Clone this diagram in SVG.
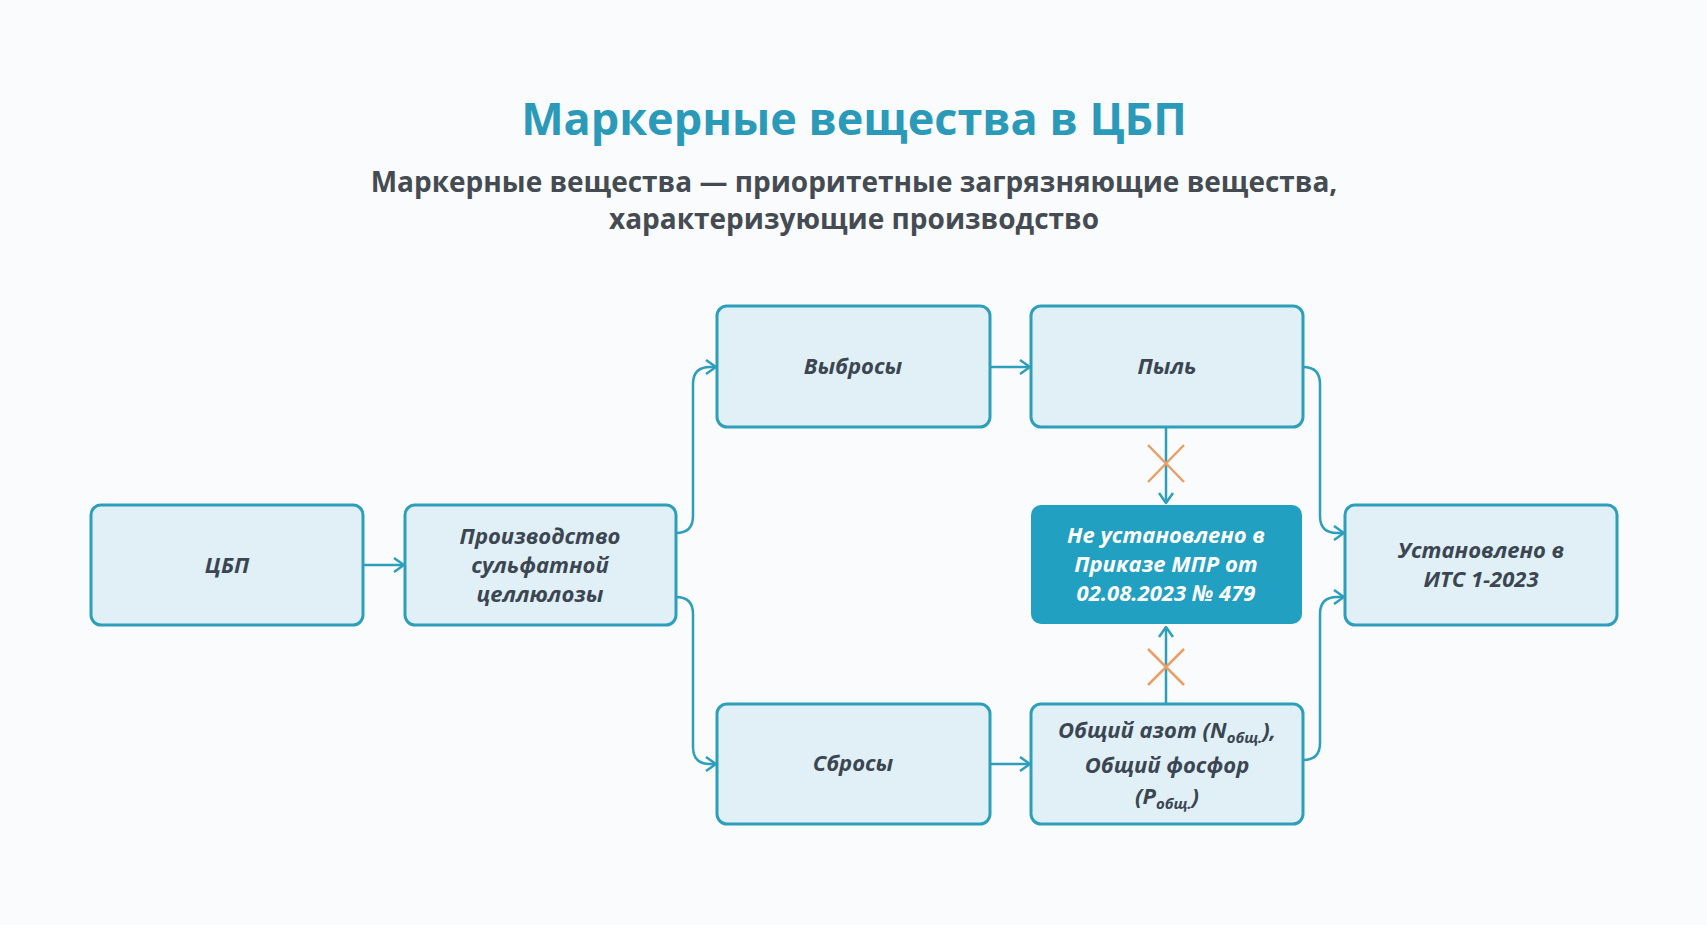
<svg xmlns="http://www.w3.org/2000/svg" width="1707" height="925" viewBox="0 0 1707 925">
<defs>
<style>
.n{fill:#e0f0f6;stroke:#2d9fbb;stroke-width:3}
.c{fill:#21a0c2;stroke:none}
.t{font-family:"Open Sans","Noto Sans",sans-serif;font-style:italic;font-weight:700;font-size:22px;fill:#3b4652;text-anchor:middle}
.w{fill:#ffffff}
.l{fill:none;stroke:#2d9fbb;stroke-width:2.5}
.x{stroke:#e8a066;stroke-width:2.5}
</style>
<marker id="a" viewBox="0 0 12 16" refX="11" refY="8" markerWidth="12" markerHeight="16" markerUnits="userSpaceOnUse" orient="auto"><path d="M1 1L11 8L1 15" fill="none" stroke="#2d9fbb" stroke-width="2.5"/></marker>
</defs>
<rect width="1707" height="925" fill="#fafbfd"/>
<text x="854" y="135" font-family="'Open Sans','Noto Sans',sans-serif" font-weight="700" font-size="45" fill="#2b9ab9" text-anchor="middle">Маркерные вещества в ЦБП</text>
<text font-family="'Open Sans','Noto Sans',sans-serif" font-weight="700" font-size="28" fill="#454b52" text-anchor="middle"><tspan x="854" y="192">Маркерные вещества — приоритетные загрязняющие вещества,</tspan><tspan x="854" y="229">характеризующие производство</tspan></text>
<g id="connectors">
<path class="l" d="M363 565H404" marker-end="url(#a)"/>
<path class="l" d="M676 533Q693 533 693 516V384Q693 367 710 367H716" marker-end="url(#a)"/>
<path class="l" d="M676 597Q693 597 693 614V747Q693 764 710 764H716" marker-end="url(#a)"/>
<path class="l" d="M990 367H1030" marker-end="url(#a)"/>
<path class="l" d="M990 764H1030" marker-end="url(#a)"/>
<path class="l" d="M1303 367Q1320 367 1320 384V516Q1320 533 1337 533H1344" marker-end="url(#a)"/>
<path class="l" d="M1303 760Q1320 760 1320 743V614Q1320 597 1337 597H1344" marker-end="url(#a)"/>
<path class="l" d="M1166 427V503" marker-end="url(#a)"/>
<path class="l" d="M1166 704V627" marker-end="url(#a)"/>
<path class="x" d="M1148 445L1184 482M1184 445L1148 482M1148 649L1184 685M1184 649L1148 685"/>
</g>
<g id="n1"><rect class="n" x="91" y="505" width="272" height="120" rx="10"/><text class="t" x="227" y="573">ЦБП</text></g>
<g id="n2"><rect class="n" x="405" y="505" width="271" height="120" rx="10"/><text class="t"><tspan x="540" y="544">Производство</tspan><tspan x="540" y="573">сульфатной</tspan><tspan x="540" y="602">целлюлозы</tspan></text></g>
<g id="n3"><rect class="n" x="717" y="306" width="273" height="121" rx="10"/><text class="t" x="853" y="374">Выбросы</text></g>
<g id="n4"><rect class="n" x="1031" y="306" width="272" height="121" rx="10"/><text class="t" x="1167" y="374">Пыль</text></g>
<g id="n5"><rect class="c" x="1031" y="505" width="271" height="119" rx="10"/><text class="t w"><tspan x="1166" y="543">Не установлено   в</tspan><tspan x="1166" y="572">Приказе МПР   от</tspan><tspan x="1166" y="601">02.08.2023 № 479</tspan></text></g>
<g id="n6"><rect class="n" x="1345" y="505" width="272" height="120" rx="10"/><text class="t"><tspan x="1481" y="558">Установлено в</tspan><tspan x="1481" y="587">ИТС 1-2023</tspan></text></g>
<g id="n7"><rect class="n" x="717" y="704" width="273" height="120" rx="10"/><text class="t" x="853" y="771">Сбросы</text></g>
<g id="n8"><rect class="n" x="1031" y="704" width="272" height="120" rx="10"/><text class="t"><tspan x="1167" y="738">Общий азот (N<tspan font-size="15" dy="5">общ.</tspan><tspan dy="-5">),</tspan></tspan><tspan x="1167" y="773">Общий фосфор</tspan><tspan x="1167" y="804">(P<tspan font-size="15" dy="5">общ.</tspan><tspan dy="-5">)</tspan></tspan></text></g>
</svg>
